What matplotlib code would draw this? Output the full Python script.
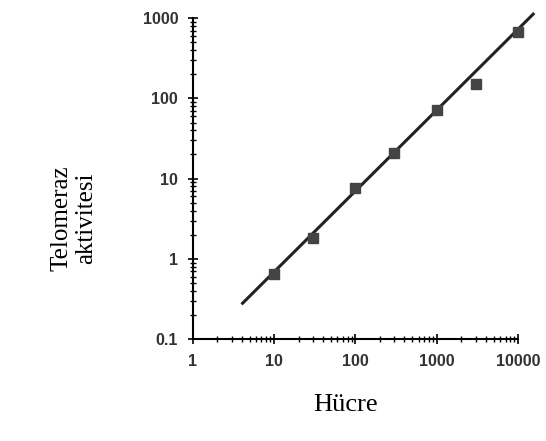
import matplotlib
matplotlib.use("Agg")
import matplotlib.pyplot as plt
import numpy as np

# data
hucre = [10, 30, 100, 300, 1000, 3000, 10000]
aktivite = [0.65, 1.8, 7.6, 21, 71, 150, 670]
fit_x = [4.1, 15300]
fit_y = [0.28, 1120]

fig = plt.figure(figsize=(5.46, 4.41), dpi=100)
ax = fig.add_axes([0.353, 0.231, 0.596, 0.728])

ax.plot(fit_x, fit_y, color="#222222", linewidth=2.2, zorder=2, clip_on=False)
ax.plot(hucre, aktivite, "s", color="#444444", markersize=7, zorder=3, clip_on=False)

ax.set_xscale("log")
ax.set_yscale("log")
ax.set_xlim(1, 10000)
ax.set_ylim(0.1, 1000)
ax.spines["top"].set_visible(False)
ax.spines["right"].set_visible(False)
ax.spines["left"].set_linewidth(1.5)
ax.spines["bottom"].set_linewidth(1.5)
ax.set_xticks([1, 10, 100, 1000, 10000])
ax.set_xticklabels(["1", "10", "100", "1000", "10000"])
ax.set_yticks([0.1, 1, 10, 100, 1000])
ax.set_yticklabels(["0.1", "1", "10", "100", "1000"])
ax.tick_params(which="major", direction="inout", length=7, width=1.2,
               labelsize=11.5, pad=7)
ax.tick_params(which="minor", direction="inout", length=4, width=1)
for lab in ax.get_xticklabels() + ax.get_yticklabels():
    lab.set_family("Liberation Sans")
    lab.set_fontweight("bold")
    lab.set_color("#333333")

fig.text(0.632, 0.082, "Hücre", ha="center", va="center",
         family="Liberation Serif", fontsize=19)
fig.text(0.135, 0.506, "Telomeraz\naktivitesi", ha="center", va="center",
         rotation=90, family="Liberation Serif", fontsize=18, linespacing=1.15)

fig.savefig("out.png", dpi=100)
